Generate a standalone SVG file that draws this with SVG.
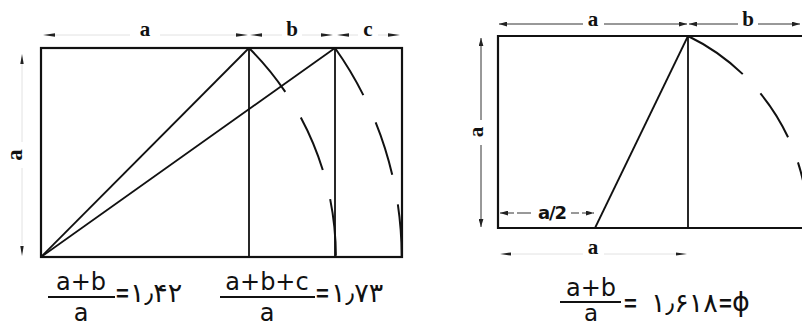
<svg xmlns="http://www.w3.org/2000/svg" width="802" height="326" viewBox="0 0 802 326">
<defs>
<style>
.edge{fill:none;stroke:#111;stroke-width:2.2}
.thin{fill:none;stroke:#111;stroke-width:1.8}
.arc{fill:none;stroke:#111;stroke-width:2}
.faint{fill:none;stroke:#e2e2e2;stroke-width:1}
.dim{fill:none;stroke:#333;stroke-width:1}
.head{fill:#222}
.lbl{font-family:"Liberation Serif","DejaVu Serif",serif;font-weight:bold;font-size:21px;fill:#111;text-anchor:middle}
.sans{font-family:"DejaVu Sans","Noto Sans",sans-serif;font-size:24px;fill:#111}
.num{font-family:"DejaVu Sans","Noto Sans",sans-serif;font-size:27px;fill:#111}
.eq{font-family:"Liberation Sans","DejaVu Sans",sans-serif;font-weight:bold;font-size:22px;fill:#111}
.mid{text-anchor:middle}
.frac{stroke:#111;stroke-width:2}
</style>
<marker id="ah" viewBox="0 0 10 6" refX="10" refY="3" markerWidth="8" markerHeight="5" orient="auto-start-reverse" markerUnits="userSpaceOnUse">
<path d="M0,0 L10,3 L0,6 z" fill="#222"/>
</marker>
</defs>
<rect width="802" height="326" fill="#fff"/>

<g id="left-diagram">
<rect class="edge" x="41" y="48" width="361" height="209"/>
<line class="thin" x1="249" y1="48" x2="249" y2="257"/>
<line class="thin" x1="335" y1="48" x2="335" y2="257"/>
</g>

<g id="connectors">
<line class="thin" x1="41" y1="257" x2="249" y2="48"/>
<line class="thin" x1="41" y1="257" x2="335" y2="48"/>
<path class="arc" d="M249,48 A294.9,294.9 0 0 1 335.9,257" stroke-dasharray="57 30"/>
<path class="arc" d="M335,48 A360.7,360.7 0 0 1 401.7,257" stroke-dasharray="55 30"/>
<line class="thin" x1="595" y1="228" x2="688" y2="36"/>
<path class="arc" d="M688,36 A213.3,213.3 0 0 1 808.3,228" stroke-dasharray="67 26 52 27 100"/>
</g>

<g id="left-dimensions">
<line class="faint" x1="55" y1="35" x2="130" y2="35"/>
<line class="faint" x1="160" y1="35" x2="236" y2="35"/>
<line class="faint" x1="262" y1="35" x2="282" y2="35"/>
<line class="faint" x1="302" y1="35" x2="321" y2="35"/>
<line class="faint" x1="347" y1="35" x2="358" y2="35"/>
<line class="faint" x1="378" y1="35" x2="388" y2="35"/>
<polygon class="head" points="43,35 55,33.3 55,36.7"/>
<polygon class="head" points="248,35 236,33.3 236,36.7"/>
<polygon class="head" points="250,35 262,33.3 262,36.7"/>
<polygon class="head" points="333,35 321,33.3 321,36.7"/>
<polygon class="head" points="337,35 349,33.3 349,36.7"/>
<polygon class="head" points="400,35 388,33.3 388,36.7"/>
<text class="lbl" x="145" y="36">a</text>
<text class="lbl" x="292" y="36">b</text>
<text class="lbl" x="368" y="36">c</text>
<line class="faint" x1="22" y1="63" x2="22" y2="142"/>
<line class="faint" x1="22" y1="168" x2="22" y2="245"/>
<polygon class="head" points="22,54 20.3,64 23.7,64"/>
<polygon class="head" points="22,256 20.3,246 23.7,246"/>
<text class="lbl" x="0" y="0" transform="translate(22,155) rotate(-90)" style="font-size:23px">a</text>
</g>

<g id="left-formulas">
<text class="sans mid" x="81" y="290">a+b</text>
<line class="frac" x1="48" y1="297" x2="115" y2="297"/>
<text class="sans mid" x="81" y="321">a</text>
<text class="eq" x="116" y="301">=</text>
<text class="num" x="130" y="302" direction="ltr">۱٫۴۲</text>
<text class="sans mid" x="267" y="290">a+b+c</text>
<line class="frac" x1="220" y1="297" x2="315" y2="297"/>
<text class="sans mid" x="267" y="321">a</text>
<text class="eq" x="316" y="301">=</text>
<text class="num" x="331" y="302" direction="ltr">۱٫۷۳</text>
</g>

<g id="right-diagram">
<polyline class="edge" points="812,36 498,36 498,228 812,228"/>
<line class="thin" x1="688" y1="36" x2="688" y2="228"/>
</g>

<g id="right-dimensions">
<line class="dim" x1="499" y1="24" x2="583" y2="24" marker-start="url(#ah)"/>
<line class="dim" x1="604" y1="24" x2="687" y2="24" marker-end="url(#ah)"/>
<text class="lbl" x="593" y="26">a</text>
<line class="dim" x1="689" y1="24" x2="738" y2="24" marker-start="url(#ah)"/>
<line class="dim" x1="758" y1="24" x2="800" y2="24" marker-end="url(#ah)"/>
<text class="lbl" x="748" y="26">b</text>
<line class="dim" x1="481" y1="38" x2="481" y2="120" marker-start="url(#ah)"/>
<line class="dim" x1="481" y1="145" x2="481" y2="227" marker-end="url(#ah)"/>
<text class="lbl" x="0" y="0" transform="translate(483,132) rotate(-90)">a</text>
<line class="dim" x1="500" y1="213" x2="532" y2="213" marker-start="url(#ah)" stroke-dasharray="14 3"/>
<line class="dim" x1="571" y1="213" x2="594" y2="213" marker-end="url(#ah)" stroke-dasharray="8 3"/>
<text class="sans mid" x="552" y="219" style="font-size:18px;font-weight:bold;letter-spacing:-1px">a/2</text>
<line class="faint" x1="512" y1="254" x2="583" y2="254"/>
<line class="faint" x1="604" y1="254" x2="676" y2="254"/>
<polygon class="head" points="500,254 511,252.4 511,255.6"/>
<polygon class="head" points="687,254 676,252.4 676,255.6"/>
<text class="lbl" x="593" y="254">a</text>
</g>

<g id="right-formula">
<text class="sans mid" x="591" y="296">a+b</text>
<line class="frac" x1="560" y1="302" x2="621" y2="302"/>
<text class="sans mid" x="591" y="321" style="font-size:23px">a</text>
<text class="eq" x="624" y="311">=</text>
<text class="num" x="651" y="312" direction="ltr">۱٫۶۱۸</text>
<text class="eq" x="719" y="311">=</text>
<text class="sans" x="732" y="311" style="font-size:27px">ϕ</text>
</g>
</svg>
